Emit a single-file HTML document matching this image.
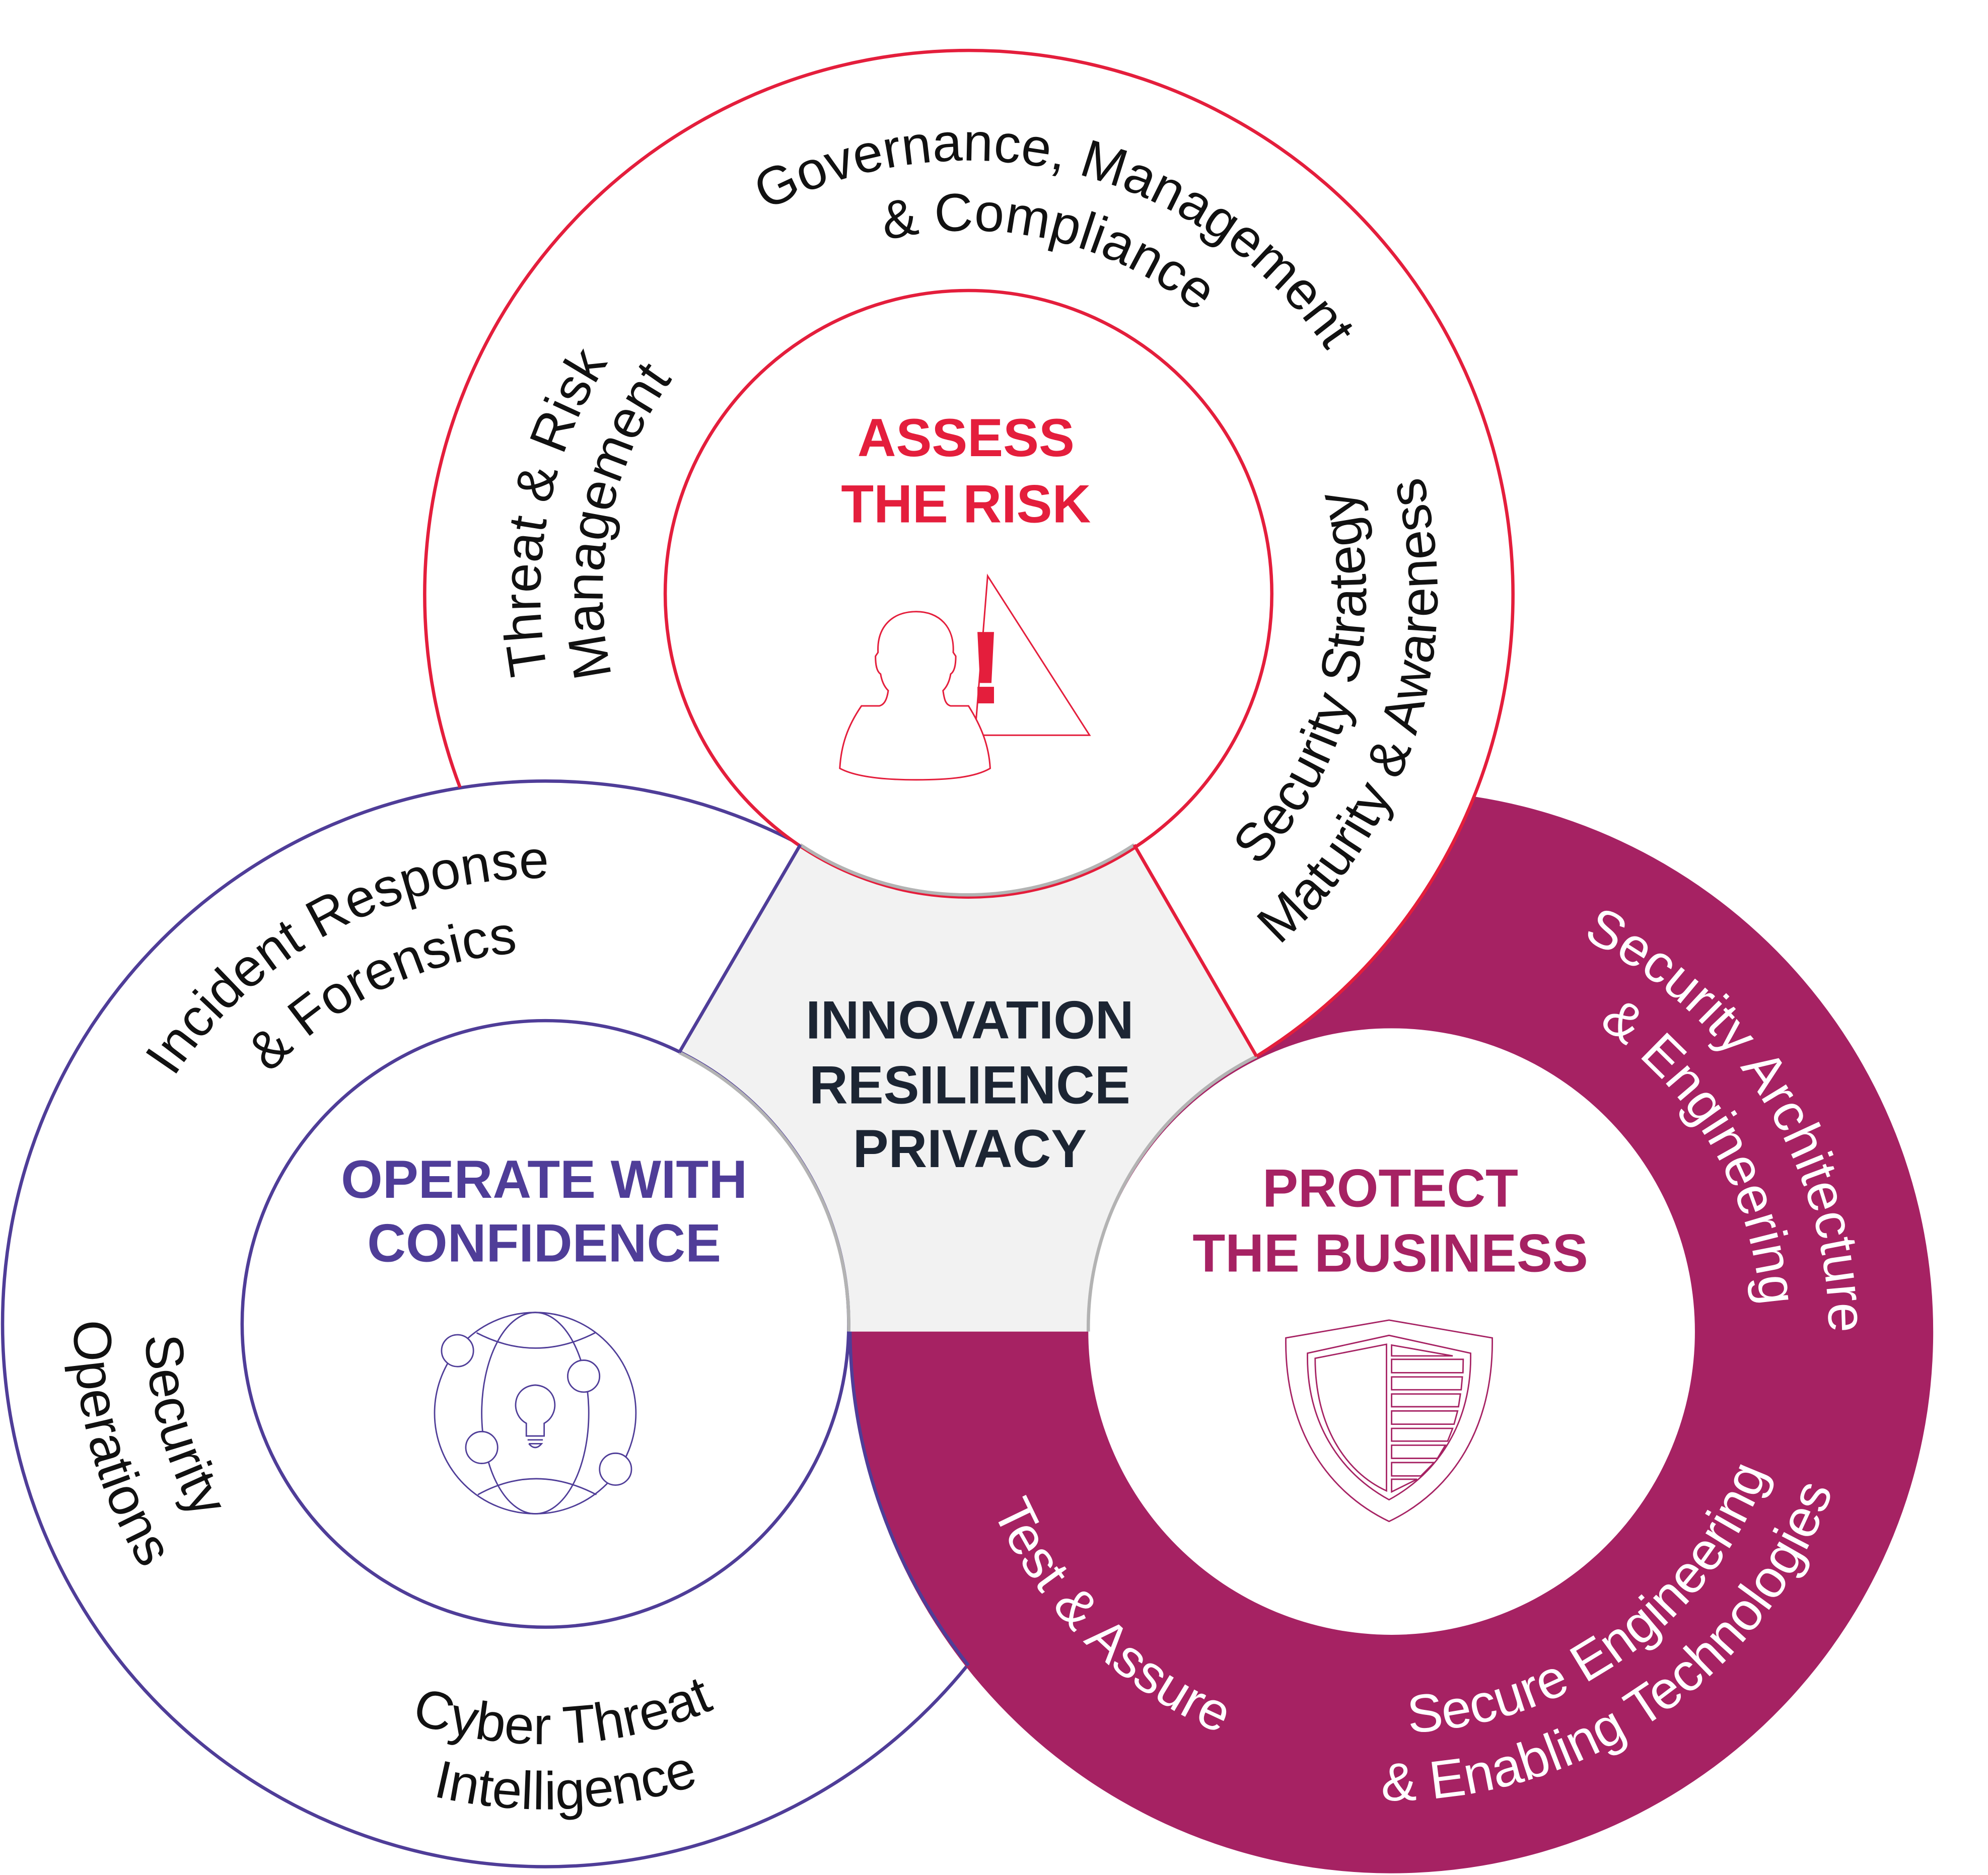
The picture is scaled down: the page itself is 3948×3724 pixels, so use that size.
<!DOCTYPE html>
<html><head><meta charset="utf-8"><style>
html,body{margin:0;padding:0;background:#fff;overflow:hidden;width:3948px;height:3724px;}
svg{display:block;}
text{font-family:"Liberation Sans",Arial,sans-serif;}
.r{font-size:42px;fill:#111;}
.w{font-size:42px;fill:#fff;}
.b{font-size:42px;font-weight:bold;text-anchor:middle;}
</style></head><body>
<svg width="3948" height="3724" viewBox="0 0 1560 1471.5" preserveAspectRatio="none" xmlns="http://www.w3.org/2000/svg">
<rect width="1560" height="1472" fill="#fff"/>
<circle cx="760" cy="466" r="427" fill="#fff"/>
<circle cx="428" cy="1039" r="426" fill="#fff" stroke="#4f3d98" stroke-width="2.6"/>
<path d="M986,829 A427,427 0 0 0 1156,625 A425,425 0 1 1 667,1045 L854,1045 A238,238 0 0 1 986,829 Z" fill="#a62263"/>
<path d="M667,1045 A425,425 0 0 0 760,1307" fill="none" stroke="#4f3d98" stroke-width="2.6"/>
<path d="M361,618 A427,427 0 1 1 986,829" fill="none" stroke="#e41e3c" stroke-width="2.6"/>
<path d="M628,663 A238,238 0 0 0 890,663 L986,829 A238,238 0 0 0 854,1045 L666,1045 A238,238 0 0 0 533,826 Z" fill="#f2f2f2"/>
<circle cx="760" cy="466" r="238" fill="#fff" stroke="#e41e3c" stroke-width="2.6"/>
<circle cx="428" cy="1039" r="238" fill="#fff" stroke="#4f3d98" stroke-width="2.6"/>
<circle cx="1092" cy="1045" r="238" fill="#fff"/>
<g fill="none" stroke="#b3b3b3" stroke-width="2.6">
<path d="M628,663 A238,238 0 0 0 890,663"/>
<path d="M986,829 A238,238 0 0 0 854,1045"/>
<path d="M666,1045 A238,238 0 0 0 533,826"/>
</g>
<line x1="890" y1="663" x2="986" y2="829" stroke="#e41e3c" stroke-width="2.6"/>
<line x1="628" y1="663" x2="533" y2="826" stroke="#4f3d98" stroke-width="2.6"/>

<text class="b" x="758" y="358" fill="#e41e3c">ASSESS</text>
<text class="b" x="758" y="410" fill="#e41e3c">THE RISK</text>
<text class="b" x="761" y="815" fill="#1c2533">INNOVATION</text>
<text class="b" x="761" y="866" fill="#1c2533">RESILIENCE</text>
<text class="b" x="761" y="916" fill="#1c2533">PRIVACY</text>
<text class="b" x="427" y="940" fill="#4f3d98">OPERATE WITH</text>
<text class="b" x="427" y="990" fill="#4f3d98">CONFIDENCE</text>
<text class="b" x="1091" y="947" fill="#a62263">PROTECT</text>
<text class="b" x="1091" y="998" fill="#a62263">THE BUSINESS</text>

<g transform="translate(760,466) rotate(14)">
<path id="p1" d="M-340,0 A340,340 0 0 1 340,0" fill="none"/>
<text class="r"><textPath href="#p1" startOffset="50%" text-anchor="middle">Governance, Management</textPath></text>
</g>
<g transform="translate(760,466) rotate(13)">
<path id="p2" d="M-285,0 A285,285 0 0 1 285,0" fill="none"/>
<text class="r"><textPath href="#p2" startOffset="50%" text-anchor="middle">&amp; Compliance</textPath></text>
</g>
<g transform="translate(760,466) rotate(281)">
<path id="p3" d="M-336,0 A336,336 0 0 1 336,0" fill="none"/>
<text class="r"><textPath href="#p3" startOffset="50%" text-anchor="middle">Threat &amp; Risk</textPath></text>
</g>
<g transform="translate(760,466) rotate(281.5)">
<path id="p4" d="M-287,0 A287,287 0 0 1 287,0" fill="none"/>
<text class="r"><textPath href="#p4" startOffset="50%" text-anchor="middle">Management</textPath></text>
</g>
<g transform="translate(760,466) rotate(-76)">
<path id="p5" d="M-312,0 A312,312 0 0 0 312,0" fill="none"/>
<text class="r"><textPath href="#p5" startOffset="50%" text-anchor="middle">Security Strategy</textPath></text>
</g>
<g transform="translate(760,466) rotate(-73)">
<path id="p6" d="M-368,0 A368,368 0 0 0 368,0" fill="none"/>
<text class="r"><textPath href="#p6" startOffset="50%" text-anchor="middle">Maturity &amp; Awareness</textPath></text>
</g>

<g transform="translate(428,1039) rotate(-28)">
<path id="p7" d="M-350,0 A350,350 0 0 1 350,0" fill="none"/>
<text class="r"><textPath href="#p7" startOffset="50%" text-anchor="middle">Incident Response</textPath></text>
</g>
<g transform="translate(428,1039) rotate(-26)">
<path id="p8" d="M-292,0 A292,292 0 0 1 292,0" fill="none"/>
<text class="r"><textPath href="#p8" startOffset="50%" text-anchor="middle">&amp; Forensics</textPath></text>
</g>
<g transform="translate(428,1039) rotate(74.5)">
<path id="p9" d="M-314,0 A314,314 0 0 0 314,0" fill="none"/>
<text class="r"><textPath href="#p9" startOffset="50%" text-anchor="middle">Security</textPath></text>
</g>
<g transform="translate(428,1039) rotate(74.5)">
<path id="p10" d="M-370,0 A370,370 0 0 0 370,0" fill="none"/>
<text class="r"><textPath href="#p10" startOffset="50%" text-anchor="middle">Operations</textPath></text>
</g>
<g transform="translate(428,1039) rotate(-2.5)">
<path id="p11" d="M-330,0 A330,330 0 0 0 330,0" fill="none"/>
<text class="r"><textPath href="#p11" startOffset="50%" text-anchor="middle">Cyber Threat</textPath></text>
</g>
<g transform="translate(428,1039) rotate(-2.5)">
<path id="p12" d="M-381,0 A381,381 0 0 0 381,0" fill="none"/>
<text class="r"><textPath href="#p12" startOffset="50%" text-anchor="middle">Intelligence</textPath></text>
</g>

<g transform="translate(1092,1045) rotate(58)">
<path id="p13" d="M-343,0 A343,343 0 0 1 343,0" fill="none"/>
<text class="w"><textPath href="#p13" startOffset="50%" text-anchor="middle">Security Architecture</textPath></text>
</g>
<g transform="translate(1092,1045) rotate(60)">
<path id="p14" d="M-290,0 A290,290 0 0 1 290,0" fill="none"/>
<text class="w"><textPath href="#p14" startOffset="50%" text-anchor="middle">&amp; Engineering</textPath></text>
</g>
<g transform="translate(1092,1045) rotate(-36)">
<path id="p15" d="M-315,0 A315,315 0 0 0 315,0" fill="none"/>
<text class="w"><textPath href="#p15" startOffset="50%" text-anchor="middle">Secure Engineering</textPath></text>
</g>
<g transform="translate(1092,1045) rotate(-34.5)">
<path id="p16" d="M-368,0 A368,368 0 0 0 368,0" fill="none"/>
<text class="w"><textPath href="#p16" startOffset="50%" text-anchor="middle">&amp; Enabling Technologies</textPath></text>
</g>
<g transform="translate(1092,1045) rotate(44.5)">
<path id="p17" d="M-343,0 A343,343 0 0 0 343,0" fill="none"/>
<text class="w"><textPath href="#p17" startOffset="50%" text-anchor="middle">Test &amp; Assure</textPath></text>
</g>

<g stroke="#e41e3c" stroke-width="1.2" fill="#fff">
<polygon points="775,452 855,577 765,577"/>
<path d="M719,480 C737,480 749,492 748,512 L750,515 C750,522 749,527 746,529 C745,535 743,539 740,542 C741,549 742,553 746,554 L760,554 C770,570 776,585 777,603 C765,610 745,612 719,612 C695,612 672,610 659,603 C660,585 665,570 676,554 L690,554 C694,553 696,549 697,542 C694,539 692,535 691,529 C688,527 687,522 687,515 L689,512 C688,492 700,480 719,480 Z"/>
</g>
<polygon points="767,496 780,496 778,536 769,536" fill="#e41e3c"/>
<rect x="767" y="539" width="13" height="13" fill="#e41e3c"/>

<g stroke="#4f3d98" stroke-width="1.1" fill="none">
<circle cx="420" cy="1109" r="79"/>
<ellipse cx="420" cy="1109" rx="42" ry="79"/>
<path d="M374,1046 Q420,1070 467,1046"/>
<path d="M375,1173 Q420,1148 468,1173"/>
<g fill="#fff">
<circle cx="359" cy="1060" r="12.5"/>
<circle cx="458" cy="1080" r="12.5"/>
<circle cx="378" cy="1136" r="12.5"/>
<circle cx="483" cy="1153" r="12.5"/>
</g>
<path d="M413,1117 C400,1110 402,1088 420,1087 C438,1088 440,1110 427,1117 L427,1127 L413,1127 Z"/>
<path d="M413,1127 L427,1127 M414,1130 L426,1130 M415,1133 L425,1133 Q420,1139 415,1133"/>
</g>

<g stroke="#a62263" stroke-width="1.1" fill="none">
<path d="M1009,1050 L1090,1036 L1171,1050 C1172,1120 1140,1170 1090,1194 C1040,1170 1008,1120 1009,1050 Z"/>
<path d="M1026,1062 L1090,1048 L1154,1062 C1155,1115 1130,1155 1090,1177 C1050,1155 1025,1115 1026,1062 Z"/>
<path d="M1032,1066 L1088,1055 L1088,1170 C1055,1155 1032,1118 1032,1066 Z"/>
<polygon points="1092,1055.6 1140,1064.1 1092,1064.1"/>
<polygon points="1092,1066.8 1148.2,1066.8 1148,1077.3 1092,1077.3"/>
<polygon points="1092,1080.6 1147.5,1080.6 1146.6,1090.7 1092,1090.7"/>
<polygon points="1092,1094 1146,1094 1144.5,1104 1092,1104"/>
<polygon points="1092,1107.3 1143.8,1107.3 1141,1117.7 1092,1117.7"/>
<polygon points="1092,1121 1139.9,1121 1136,1131 1092,1131"/>
<polygon points="1092,1134.2 1134.2,1134.2 1128,1144.5 1092,1144.5"/>
<polygon points="1092,1147.8 1125.4,1147.8 1115,1158.3 1092,1158.3"/>
<polygon points="1092,1160.9 1112,1160.9 1092,1170.8"/>
</g>
</svg>
</body></html>
